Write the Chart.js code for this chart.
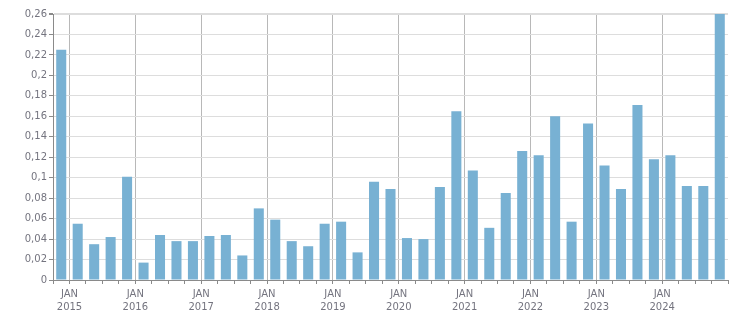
<!DOCTYPE html>
<html>
<head>
<meta charset="utf-8">
<script src="https://cdn.jsdelivr.net/npm/chart.js@4.4.1/dist/chart.umd.min.js"></script>
<style>
html,body{margin:0;padding:0;background:#fff;}
#wrap{width:751px;height:313px;position:relative;}
</style>
</head>
<body>
<div id="wrap"><canvas id="c"></canvas></div>
<script>
// Quarterly categories: 2014 Q4 through 2024 Q4
const quarters = [
  '2014-Q4',
  '2015-Q1','2015-Q2','2015-Q3','2015-Q4',
  '2016-Q1','2016-Q2','2016-Q3','2016-Q4',
  '2017-Q1','2017-Q2','2017-Q3','2017-Q4',
  '2018-Q1','2018-Q2','2018-Q3','2018-Q4',
  '2019-Q1','2019-Q2','2019-Q3','2019-Q4',
  '2020-Q1','2020-Q2','2020-Q3','2020-Q4',
  '2021-Q1','2021-Q2','2021-Q3','2021-Q4',
  '2022-Q1','2022-Q2','2022-Q3','2022-Q4',
  '2023-Q1','2023-Q2','2023-Q3','2023-Q4',
  '2024-Q1','2024-Q2','2024-Q3','2024-Q4'
];
const values = [
  0.225,
  0.055, 0.035, 0.042, 0.101,
  0.017, 0.044, 0.038, 0.038,
  0.043, 0.044, 0.024, 0.070,
  0.059, 0.038, 0.033, 0.055,
  0.057, 0.027, 0.096, 0.089,
  0.041, 0.040, 0.091, 0.165,
  0.107, 0.051, 0.085, 0.126,
  0.122, 0.160, 0.057, 0.153,
  0.112, 0.089, 0.171, 0.118,
  0.122, 0.092, 0.092, 0.260
];
const yTicks = [0,0.02,0.04,0.06,0.08,0.1,0.12,0.14,0.16,0.18,0.2,0.22,0.24,0.26];
const monthLabel = 'JAN';

const textColor = '#74747f';
const font = {family: 'DejaVu Sans', size: 10, lineHeight: 1.3};

function isYearStart(i){ return i < quarters.length && quarters[i].endsWith('Q1'); }

new Chart(document.getElementById('c'), {
  type: 'bar',
  data: {
    labels: quarters,
    datasets: [{
      data: values,
      backgroundColor: '#78b1d3',
      borderWidth: 0,
      barPercentage: 0.61,
      categoryPercentage: 1.0
    }]
  },
  options: {
    responsive: true,
    maintainAspectRatio: false,
    animation: false,
    devicePixelRatio: 1,
    layout: {padding: {top: 14, right: 23, left: 0, bottom: 0}},
    plugins: {legend: {display: false}, tooltip: {enabled: false}},
    scales: {
      x: {
        type: 'category',
        offset: true,
        afterFit: s => { s.height = 33; },
        grid: {
          offset: true,
          drawOnChartArea: true,
          tickLength: 4,
          color: ctx => {
            if (ctx.index === quarters.length) return '#dddddd';
            return isYearStart(ctx.index) ? '#b8b8b8' : 'rgba(0,0,0,0)';
          },
          tickColor: '#8a8a8a'
        },
        border: {color: '#8a8a8a', width: 1},
        ticks: {
          autoSkip: false,
          maxRotation: 0,
          minRotation: 0,
          padding: 4,
          labelOffset: -8.2,
          color: textColor,
          font: font,
          callback: function(v, i){
            const q = quarters[i];
            if (q && q.endsWith('Q1')) return [monthLabel, q.slice(0,4)];
            return '';
          }
        }
      },
      y: {
        min: 0,
        max: 0.26,
        afterFit: s => { s.width = 53; },
        afterBuildTicks: s => { s.ticks = yTicks.map(v => ({value: v})); },
        grid: {
          color: '#dddddd',
          lineWidth: ctx => (ctx.tick && ctx.tick.value === 0.26) ? 2 : 1,
          tickLength: 4,
          tickColor: '#8a8a8a'
        },
        border: {color: '#8a8a8a', width: 1},
        ticks: {
          padding: 2,
          color: textColor,
          font: font,
          callback: v => String(Math.round(v*100)/100).replace('.', ',')
        }
      }
    }
  }
});
</script>
</body>
</html>
